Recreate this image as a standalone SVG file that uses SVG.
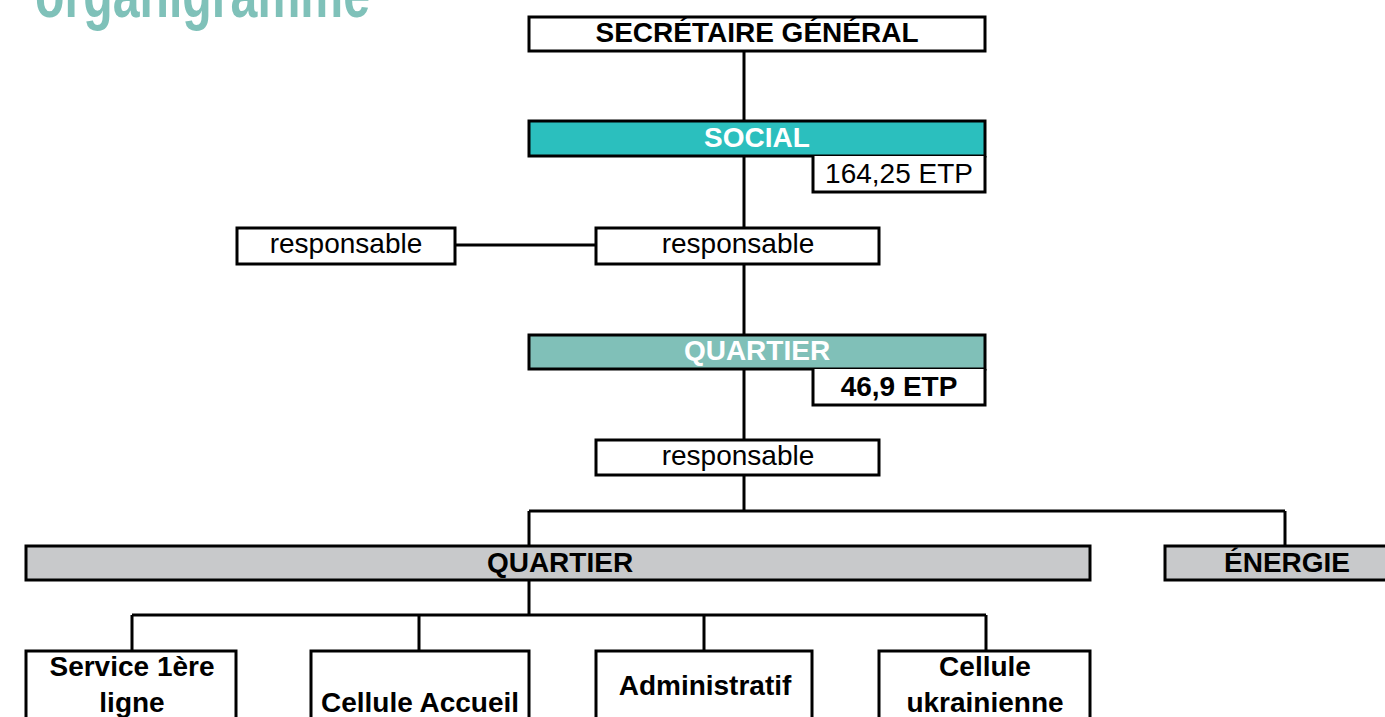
<svg xmlns="http://www.w3.org/2000/svg" width="1385" height="717" viewBox="0 0 1385 717">
<style>
.box{stroke:#000;stroke-width:3}
.w{fill:#fff}
.t{font-family:"Liberation Sans",Arial,sans-serif;font-size:28px;text-anchor:middle;fill:#000}
.b{font-weight:bold}
.wt{fill:#fff}
.ln{stroke:#000;stroke-width:3;fill:none}
</style>
<rect width="1385" height="717" fill="#fff"/>
<text x="35" y="17" font-family="Liberation Sans,Arial,sans-serif" font-weight="bold" font-size="66" fill="#7fc1b9" textLength="335" lengthAdjust="spacingAndGlyphs">organigramme</text>
<g id="connectors">
<path class="ln" d="M744 52V121M744 156V228M744 264V335M744 369V440M744 475V511M529 511H1285M529 511V546M1285 511V546M455 245H596M529 580V615M132 615H986M132 615V651M419 615V651M704 615V651M986 615V651"/>
</g>
<g id="sg"><rect class="box w" x="529" y="17" width="456" height="34"/><text class="t b" x="757" y="42">SECRÉTAIRE GÉNÉRAL</text></g>
<g id="social"><rect class="box" fill="#2bbfbe" x="529" y="121" width="456" height="35"/><text class="t b wt" x="757" y="147">SOCIAL</text></g>
<g id="social-etp"><path class="box w" d="M813 156V192H985V156"/><text class="t" x="899" y="183">164,25 ETP</text></g>
<g id="resp-left"><rect class="box w" x="237" y="228" width="218" height="36"/><text class="t" x="346" y="253">responsable</text></g>
<g id="resp-1"><rect class="box w" x="596" y="228" width="283" height="36"/><text class="t" x="738" y="253">responsable</text></g>
<g id="quartier-teal"><rect class="box" fill="#80c0b8" x="529" y="335" width="456" height="34"/><text class="t b wt" x="757" y="360">QUARTIER</text></g>
<g id="quartier-etp"><path class="box w" d="M813 369V405H985V369"/><text class="t b" x="899" y="396">46,9 ETP</text></g>
<g id="resp-2"><rect class="box w" x="596" y="440" width="283" height="35"/><text class="t" x="738" y="465">responsable</text></g>
<g id="quartier-grey"><rect class="box" fill="#c8c9cb" x="26" y="546" width="1064" height="34"/><text class="t b" x="560" y="572">QUARTIER</text></g>
<g id="energie"><rect class="box" fill="#c8c9cb" x="1165" y="546" width="224" height="34"/><text class="t b" x="1287" y="572">ÉNERGIE</text></g>
<g id="service"><rect class="box w" x="26" y="651" width="210" height="80"/><text class="t b" x="132" y="676">Service 1ère</text><text class="t b" x="132" y="712">ligne</text></g>
<g id="accueil"><rect class="box w" x="311" y="651" width="218" height="80"/><text class="t b" x="420" y="712">Cellule Accueil</text></g>
<g id="admin"><rect class="box w" x="596" y="651" width="216" height="80"/><text class="t b" x="705" y="695">Administratif</text></g>
<g id="ukr"><rect class="box w" x="879" y="651" width="211" height="80"/><text class="t b" x="985" y="676">Cellule</text><text class="t b" x="985" y="712">ukrainienne</text></g>
</svg>
